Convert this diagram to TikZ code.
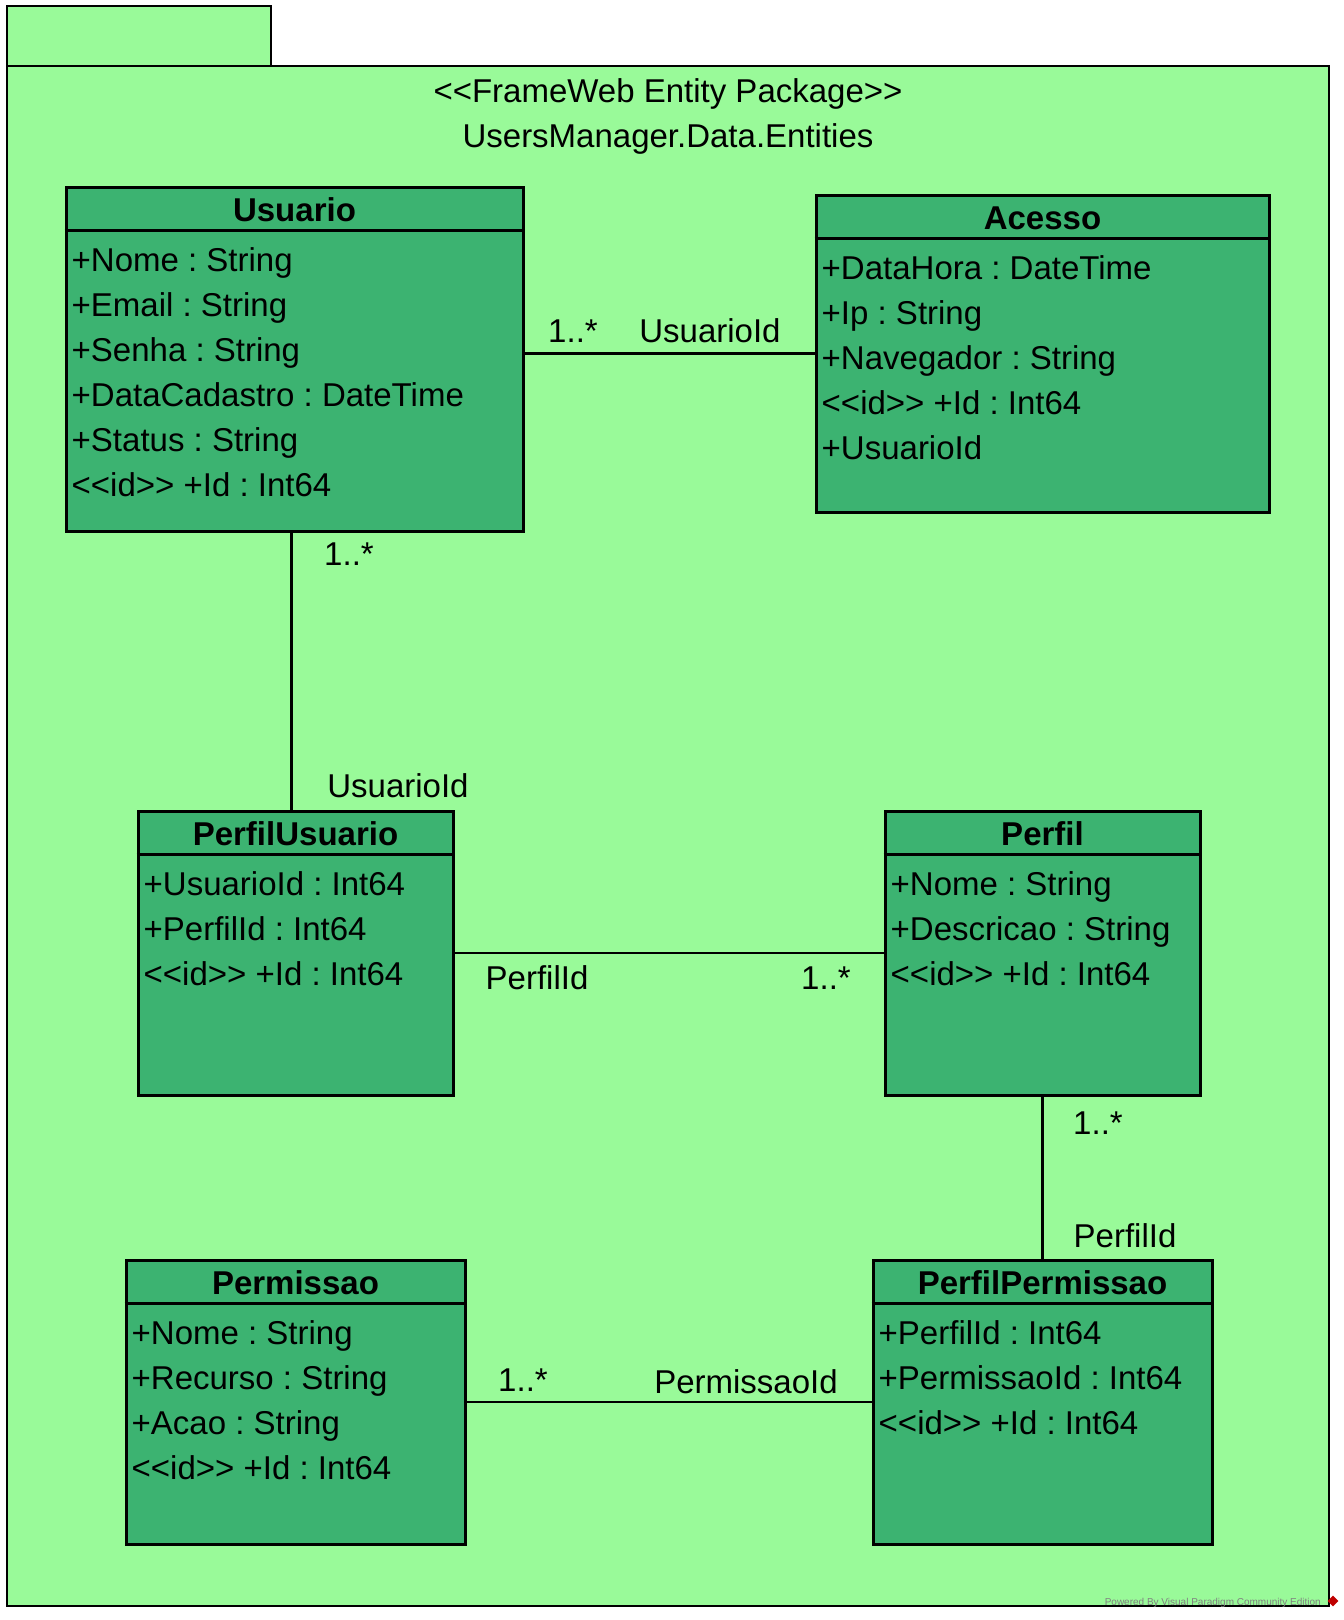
\documentclass[tikz,border=0pt]{standalone}
\usepackage{fontspec}
\setmainfont{Liberation Sans}
\frenchspacing
\usetikzlibrary{calc,shapes.geometric}
\definecolor{pkggreen}{RGB}{153,250,153}
\definecolor{classgreen}{RGB}{60,179,113}
\newcommand\diagfont{\fontsize{33}{45}\selectfont}
\tikzset{
	pkgbox/.style={draw, line width=2.6pt, fill=pkggreen, inner sep=0pt},
	classbox/.style={draw, line width=3pt, fill=classgreen, inner sep=0pt},
	classtitle/.style={font=\diagfont\bfseries, anchor=base, inner sep=0pt},
	headline/.style={line width=3pt},
	attr/.style={anchor=base west, inner sep=0pt},
	assoc/.style={line width=2.2pt},
	mult/.style={anchor=center, inner sep=0pt},
	watermark/.style={font=\fontsize{10}{12}\selectfont, text=gray, anchor=east, inner sep=0pt}
}
\begin{document}
\begin{tikzpicture}
			[x=1pt, y=-1pt, line join=miter, font=\diagfont]
			\useasboundingbox (0,0) rectangle (1344,1620);
			% package
			\node[pkgbox, minimum width=264pt, minimum height=60pt] (tab) at (139,36) {};
			\node[pkgbox, minimum width=1322pt, minimum height=1540pt] (pkg) at (668,836) {};
			\node[anchor=base, inner sep=0pt] (stereo) at (668,102) {<{}<FrameWeb Entity Package>{}>};
			\node[anchor=base, inner sep=0pt] (pkgname) at (668,147) {UsersManager.Data.Entities};
			% classes
			\node[classbox, minimum width=457pt, minimum height=344pt] (usuario) at (294.5,359) {};
			\node[classbox, minimum width=453pt, minimum height=317pt] (acesso) at (1042.5,353.5) {};
			\node[classbox, minimum width=315pt, minimum height=284pt] (perfilusuario) at (295.5,953) {};
			\node[classbox, minimum width=315pt, minimum height=284pt] (perfil) at (1042.5,953) {};
			\node[classbox, minimum width=339pt, minimum height=284pt] (permissao) at (295.5,1402) {};
			\node[classbox, minimum width=339pt, minimum height=284pt] (perfilpermissao) at (1042.5,1402) {};
			\foreach \c/\t in {usuario/Usuario, acesso/Acesso, perfilusuario/PerfilUsuario,
				perfil/Perfil, permissao/Permissao, perfilpermissao/PerfilPermissao}{
				\draw[headline] ([yshift=-45pt]\c.north west) -- ([yshift=-45pt]\c.north east);
				\node[classtitle] (\c-title) at ($(\c.north)+(0,35.5)$) {\t};
			}
			% attributes
			\foreach \a [count=\i from 0] in {+Nome : String, +Email : String, +Senha : String,
				+DataCadastro : DateTime, +Status : String, <{}<id>{}> +Id : Int64}
				\node[attr] (usuario-a\i) at ($(usuario.north west)+(7,85.5+45*\i)$) {\a};
			\foreach \a [count=\i from 0] in {+DataHora : DateTime, +Ip : String,
				+Navegador : String, <{}<id>{}> +Id : Int64, +UsuarioId}
				\node[attr] (acesso-a\i) at ($(acesso.north west)+(7,85.5+45*\i)$) {\a};
			\foreach \a [count=\i from 0] in {+UsuarioId : Int64, +PerfilId : Int64, <{}<id>{}> +Id : Int64}
				\node[attr] (perfilusuario-a\i) at ($(perfilusuario.north west)+(7,85.5+45*\i)$) {\a};
			\foreach \a [count=\i from 0] in {+Nome : String, +Descricao : String, <{}<id>{}> +Id : Int64}
				\node[attr] (perfil-a\i) at ($(perfil.north west)+(7,85.5+45*\i)$) {\a};
			\foreach \a [count=\i from 0] in {+Nome : String, +Recurso : String, +Acao : String,
				<{}<id>{}> +Id : Int64}
				\node[attr] (permissao-a\i) at ($(permissao.north west)+(7,85.5+45*\i)$) {\a};
			\foreach \a [count=\i from 0] in {+PerfilId : Int64, +PermissaoId : Int64, <{}<id>{}> +Id : Int64}
				\node[attr] (perfilpermissao-a\i) at ($(perfilpermissao.north west)+(7,85.5+45*\i)$) {\a};
			% associations
			\draw[assoc] (acesso.west) -- (acesso.west -| usuario.east);
			\draw[assoc] ([xshift=-4pt]perfilusuario.north) -- ([xshift=-4pt]perfilusuario.north |- usuario.south);
			\draw[assoc] (perfilusuario.east) -- (perfil.west);
			\draw[assoc] (perfil.south) -- (perfilpermissao.north);
			\draw[assoc] (permissao.east) -- (perfilpermissao.west);
			\node[mult] (m1) at (573,331) {1..*};
			\node[mult] (r1) at (710,331) {UsuarioId};
			\node[mult] (m2) at (349,554) {1..*};
			\node[mult] (r2) at (398,786) {UsuarioId};
			\node[mult] (r3) at (537,978) {PerfilId};
			\node[mult] (m3) at (826,978) {1..*};
			\node[mult] (m4) at (1098,1123) {1..*};
			\node[mult] (r4) at (1125,1236) {PerfilId};
			\node[mult] (m5) at (523,1380) {1..*};
			\node[mult] (r5) at (746,1382) {PermissaoId};
			% watermark
			\node[watermark] (vp) at (1321,1603) {Powered By Visual Paradigm Community Edition};
			\node[diamond, fill=red!75!black, minimum size=11pt, inner sep=0pt] (vplogo) at (1333,1601) {};
		\end{tikzpicture}
\end{document}
